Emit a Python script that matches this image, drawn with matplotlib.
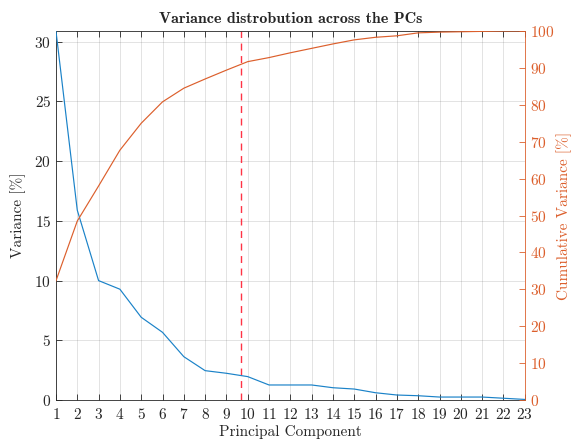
import numpy as np
import matplotlib
matplotlib.use('Agg')
import matplotlib.pyplot as plt

# ── data ──────────────────────────────────────────────────────────────────────
components = np.arange(1, 24)
variance = [30.9, 15.9, 10.0, 9.28, 6.93, 5.67, 3.63, 2.46, 2.24, 1.96,
            1.26, 1.26, 1.26, 1.03, 0.92, 0.61, 0.42, 0.36, 0.25, 0.25,
            0.25, 0.15, 0.05]
cumulative = [32.3, 48.5, 58.0, 67.7, 75.0, 80.8, 84.5, 87.0, 89.4, 91.7,
              92.8, 94.1, 95.3, 96.5, 97.6, 98.3, 98.7, 99.5, 99.7, 99.8,
              99.9, 100.0, 100.0]
cutoff = 9.7

# ── style ─────────────────────────────────────────────────────────────────────
plt.rcParams.update({
    'font.family': 'cmr10',
    'axes.formatter.use_mathtext': True,
    'font.size': 11,
    'xtick.direction': 'in',
    'ytick.direction': 'in',
    'axes.linewidth': 0.6,
})
BLUE = '#1a82c8'
ORANGE = '#dc5f2c'
AXC = '#262626'

fig = plt.figure(figsize=(5.71, 4.43), dpi=100)
ax = fig.add_axes([0.098, 0.097, 0.821, 0.833])

ax.plot(components, variance, color=BLUE, linewidth=0.85, zorder=3)
ax.set_xlim(1, 23)
ax.set_ylim(0, variance[0])
ax.set_xticks(components)
ax.set_yticks([0, 5, 10, 15, 20, 25, 30])
ax.grid(True, color=AXC, alpha=0.15, linewidth=0.6)
ax.tick_params(axis='x', top=True, length=4, width=0.6, color=AXC,
               labelcolor=AXC, pad=5)
ax.tick_params(axis='y', length=4, width=0.6, color=AXC, labelcolor=AXC)
for side in ('left', 'top', 'bottom'):
    ax.spines[side].set_color(AXC)
ax.spines['right'].set_visible(False)
ax.set_xlabel('Principal Component', color=AXC, labelpad=2)
ax.set_ylabel('Variance [%]', color=AXC, labelpad=6)
ax.axvline(cutoff, color='#ff3345', linestyle=(0, (5, 4)), linewidth=1.0,
           zorder=2)

ax2 = ax.twinx()
ax2.plot(components, cumulative, color=ORANGE, linewidth=0.85, zorder=3)
ax2.set_ylim(0, 100)
ax2.set_yticks(np.arange(0, 101, 10))
ax2.tick_params(axis='y', length=4, width=0.6, color=ORANGE,
                labelcolor=ORANGE)
for side in ('left', 'top', 'bottom'):
    ax2.spines[side].set_visible(False)
ax2.spines['right'].set_color(ORANGE)
ax2.set_ylabel('Cumulative Variance [%]', color=ORANGE, labelpad=2)

ax.set_title('Variance distrobution across the PCs', family='cmb10',
             fontsize=11.5, color=AXC, pad=6)

fig.savefig('out.png', dpi=100)
